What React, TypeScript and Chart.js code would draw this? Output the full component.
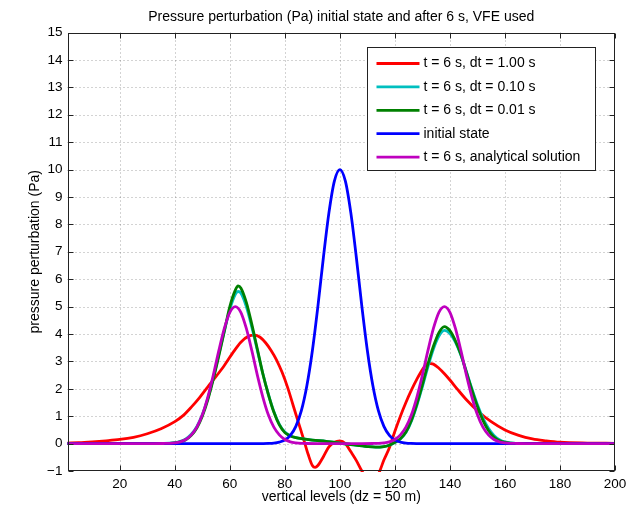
import React, { useEffect, useRef } from 'react';
import { Chart, registerables } from 'chart.js';

Chart.register(...registerables);

const FONT = "'Liberation Sans', Arial, Helvetica, sans-serif";

const chartTitle = 'Pressure perturbation (Pa) initial state and after 6 s, VFE used';
const xAxisTitle = 'vertical levels (dz = 50 m)';
const yAxisTitle = 'pressure perturbation (Pa)';

const xTickValues = [20, 40, 60, 80, 100, 120, 140, 160, 180, 200];
const yTickValues = [-1, 0, 1, 2, 3, 4, 5, 6, 7, 8, 9, 10, 11, 12, 13, 14, 15];

const seriesLabels = [
  't = 6 s, dt = 1.00 s',
  't = 6 s, dt = 0.10 s',
  't = 6 s, dt = 0.01 s',
  'initial state',
  't = 6 s, analytical solution',
];
const seriesColors = ['#ff0000', '#00bfbf', '#008000', '#0000ff', '#bf00bf'];

// dt = 1.00 s (red)
const redX = [1, 5, 10, 15, 20, 25, 30, 35, 40, 43, 46, 49, 52, 55, 58, 61, 64, 67, 69, 71, 73, 75, 77, 79, 81, 83, 85, 87, 88.5, 90, 91, 92, 94, 96, 98, 100, 102, 104, 106, 108, 110, 111.5, 113, 114.5, 116, 118, 120, 122, 124, 126, 128, 130, 132, 134, 136, 138, 140, 143, 146, 150, 155, 160, 165, 170, 175, 180, 190, 200];
const redY = [0.02, 0.03, 0.06, 0.1, 0.15, 0.23, 0.36, 0.54, 0.8, 1.02, 1.33, 1.68, 2.07, 2.45, 2.85, 3.3, 3.7, 3.93, 3.96, 3.88, 3.68, 3.4, 3.05, 2.6, 2.05, 1.4, 0.75, 0.1, -0.4, -0.8, -0.87, -0.8, -0.48, -0.12, 0.05, 0.1, 0.0, -0.3, -0.62, -1.0, -1.3, -1.4, -1.3, -1.0, -0.6, -0.15, 0.45, 1.0, 1.5, 1.95, 2.35, 2.7, 2.93, 2.9, 2.75, 2.55, 2.32, 1.95, 1.6, 1.2, 0.8, 0.5, 0.3, 0.17, 0.1, 0.05, 0.02, 0.01];

// dt = 0.10 s (cyan)
const cyanX = [1, 36, 40, 42, 44, 46, 48, 50, 52, 54, 56, 58, 60, 62, 63, 64, 66, 68, 70, 72, 74, 76, 78, 80, 82, 84, 86, 90, 95, 100, 105, 110, 113, 116, 118, 120, 122, 124, 126, 128, 130, 132, 134, 136, 138, 140, 142, 144, 146, 148, 150, 152, 154, 156, 158, 160, 164, 200];
const cyanY = [0, 0.005, 0.035, 0.08, 0.17, 0.34, 0.62, 1.05, 1.65, 2.4, 3.25, 4.1, 4.9, 5.45, 5.55, 5.5, 5.0, 4.25, 3.4, 2.55, 1.8, 1.17, 0.7, 0.42, 0.29, 0.22, 0.18, 0.13, 0.08, 0.02, -0.05, -0.11, -0.13, -0.11, -0.06, 0.04, 0.17, 0.4, 0.82, 1.4, 2.08, 2.8, 3.45, 3.92, 4.13, 4.02, 3.7, 3.22, 2.62, 2.0, 1.42, 0.93, 0.56, 0.3, 0.14, 0.06, 0.01, 0];

// dt = 0.01 s (green)
const greenX = [1, 36, 40, 42, 44, 46, 48, 50, 52, 54, 56, 58, 60, 62, 63, 64, 66, 68, 70, 72, 74, 76, 78, 80, 82, 84, 86, 90, 95, 100, 105, 110, 113, 116, 118, 120, 122, 124, 126, 128, 130, 132, 134, 136, 138, 140, 142, 144, 146, 148, 150, 152, 154, 156, 158, 160, 164, 200];
const greenY = [0, 0.004, 0.025, 0.06, 0.14, 0.3, 0.57, 1.0, 1.6, 2.35, 3.2, 4.1, 5.0, 5.6, 5.75, 5.68, 5.15, 4.35, 3.45, 2.55, 1.8, 1.15, 0.68, 0.4, 0.28, 0.22, 0.18, 0.13, 0.08, 0.02, -0.05, -0.11, -0.13, -0.11, -0.06, 0.05, 0.18, 0.42, 0.85, 1.45, 2.15, 2.9, 3.55, 4.05, 4.27, 4.12, 3.75, 3.25, 2.6, 1.95, 1.35, 0.85, 0.48, 0.24, 0.1, 0.04, 0.005, 0];

// initial state (blue)
const blueX = [1, 70, 74, 76, 78, 80, 82, 84, 86, 88, 90, 92, 94, 96, 98, 100, 102, 104, 106, 108, 110, 112, 114, 116, 118, 120, 122, 124, 126, 130, 200];
const blueY = [0, 0, 0.007, 0.02, 0.054, 0.13, 0.3, 0.63, 1.2, 2.11, 3.39, 5.0, 6.78, 8.41, 9.58, 10, 9.58, 8.41, 6.78, 5.0, 3.39, 2.11, 1.2, 0.63, 0.3, 0.13, 0.054, 0.02, 0.007, 0, 0];

// analytical solution (magenta)
const magentaX = [1, 32, 36, 38, 40, 42, 44, 46, 48, 50, 52, 54, 56, 58, 60, 62, 64, 66, 68, 70, 72, 74, 76, 78, 80, 82, 84, 86, 88, 92, 108, 112, 114, 116, 118, 120, 122, 124, 126, 128, 130, 132, 134, 136, 138, 140, 142, 144, 146, 148, 150, 152, 154, 156, 158, 160, 162, 164, 168, 200];
const magentaY = [0, 0, 0.004, 0.01, 0.027, 0.065, 0.15, 0.32, 0.6, 1.05, 1.7, 2.5, 3.39, 4.2, 4.79, 5.0, 4.79, 4.2, 3.39, 2.5, 1.7, 1.05, 0.6, 0.32, 0.15, 0.065, 0.027, 0.01, 0.004, 0, 0, 0.004, 0.01, 0.027, 0.065, 0.15, 0.32, 0.6, 1.05, 1.7, 2.5, 3.39, 4.2, 4.79, 5.0, 4.79, 4.2, 3.39, 2.5, 1.7, 1.05, 0.6, 0.32, 0.15, 0.065, 0.027, 0.01, 0.004, 0, 0];

const seriesX = [redX, cyanX, greenX, blueX, magentaX];
const seriesY = [redY, cyanY, greenY, blueY, magentaY];
const drawOrder = [5, 4, 3, 2, 1];

const framePlugin = {
  id: 'matlabFrame',
  beforeDatasetsDraw(chart: any) {
    const { ctx, chartArea: a, scales } = chart;
    ctx.save();
    ctx.strokeStyle = 'rgba(0,0,0,0.35)';
    ctx.lineWidth = 1;
    ctx.setLineDash([1, 3]);
    xTickValues.forEach((v) => {
      const px = Math.round(scales.x.getPixelForValue(v)) + 0.5;
      if (px > a.left + 1 && px < a.right - 1) {
        ctx.beginPath();
        ctx.moveTo(px, a.top);
        ctx.lineTo(px, a.bottom);
        ctx.stroke();
      }
    });
    yTickValues.forEach((v) => {
      const py = Math.round(scales.y.getPixelForValue(v)) + 0.5;
      if (py > a.top + 1 && py < a.bottom - 1) {
        ctx.beginPath();
        ctx.moveTo(a.left, py);
        ctx.lineTo(a.right, py);
        ctx.stroke();
      }
    });
    ctx.restore();
  },
  afterDatasetsDraw(chart: any) {
    const { ctx, chartArea: a, scales } = chart;
    ctx.save();
    ctx.strokeStyle = '#222';
    ctx.lineWidth = 1;
    ctx.setLineDash([]);
    const L = Math.round(a.left) + 0.5;
    const R = Math.round(a.right) - 0.5;
    const T = Math.round(a.top) + 0.5;
    const B = Math.round(a.bottom) - 0.5;
    ctx.strokeRect(L, T, R - L, B - T);
    const tl = 5;
    ctx.beginPath();
    xTickValues.forEach((v) => {
      const px = Math.round(scales.x.getPixelForValue(v)) + 0.5;
      ctx.moveTo(px, B);
      ctx.lineTo(px, B - tl);
      ctx.moveTo(px, T);
      ctx.lineTo(px, T + tl);
    });
    yTickValues.forEach((v) => {
      const py = Math.round(scales.y.getPixelForValue(v)) + 0.5;
      ctx.moveTo(L, py);
      ctx.lineTo(L + tl, py);
      ctx.moveTo(R, py);
      ctx.lineTo(R - tl, py);
    });
    ctx.stroke();
    // title centred over the axes, as MATLAB does
    ctx.fillStyle = '#000';
    ctx.font = `14px ${FONT}`;
    ctx.textAlign = 'center';
    ctx.textBaseline = 'middle';
    ctx.fillText(chartTitle, (a.left + a.right) / 2, a.top - 15.5);
    ctx.restore();
  },
};

const legendPlugin = {
  id: 'matlabLegend',
  afterDraw(chart: any) {
    const { ctx, chartArea: a } = chart;
    const datasets = chart.data.datasets;
    const boxR = Math.round(a.right) - 19.5;
    const boxL = boxR - 228;
    const boxT = Math.round(a.top) + 14.5;
    const rowH = 23.4;
    const boxH = 123;
    ctx.save();
    ctx.fillStyle = '#fff';
    ctx.fillRect(boxL, boxT, boxR - boxL, boxH);
    ctx.strokeStyle = '#222';
    ctx.lineWidth = 1;
    ctx.strokeRect(boxL, boxT, boxR - boxL, boxH);
    ctx.font = `14px ${FONT}`;
    ctx.textBaseline = 'middle';
    ctx.textAlign = 'left';
    datasets.forEach((ds: any, i: number) => {
      const y = boxT + 16 + i * rowH;
      ctx.strokeStyle = ds.borderColor;
      ctx.lineWidth = 2.8;
      ctx.beginPath();
      ctx.moveTo(boxL + 9, y);
      ctx.lineTo(boxL + 52, y);
      ctx.stroke();
      ctx.fillStyle = '#000';
      ctx.fillText(ds.label, boxL + 56, y);
    });
    ctx.restore();
  },
};

export default function App() {
  const ref = useRef<HTMLCanvasElement>(null);
  useEffect(() => {
    if (!ref.current) return;
    const datasets = seriesLabels.map((label, i) => ({
      label,
      data: seriesX[i].map((x, j) => ({ x, y: seriesY[i][j] })),
      borderColor: seriesColors[i],
      backgroundColor: seriesColors[i],
      borderWidth: 2.8,
      pointRadius: 0,
      fill: false,
      cubicInterpolationMode: 'monotone' as const,
      order: drawOrder[i],
      clip: 1,
    }));
    const tickFont = { family: FONT, size: 13.5 };
    const chart = new Chart(ref.current, {
      type: 'line',
      data: { datasets },
      options: {
        animation: false,
        responsive: false,
        devicePixelRatio: 1,
        layout: { padding: { left: 0, right: 27, top: 32.5, bottom: 0 } },
        plugins: {
          legend: { display: false },
          tooltip: { enabled: false },
          title: { display: false },
        },
        scales: {
          x: {
            type: 'linear',
            min: 1,
            max: 200,
            grid: { display: false, drawTicks: false },
            border: { display: false },
            afterBuildTicks: (s: any) => {
              s.ticks = xTickValues.map((v) => ({ value: v }));
            },
            ticks: {
              font: tickFont,
              color: '#000',
              padding: 5,
              maxRotation: 0,
              autoSkip: false,
            },
            title: {
              display: true,
              text: xAxisTitle,
              color: '#000',
              font: { family: FONT, size: 14 },
              padding: { top: 2, bottom: 4 },
            },
            afterFit: (s: any) => {
              s.height = 39;
            },
          },
          y: {
            type: 'linear',
            min: -1,
            max: 15,
            grid: { display: false, drawTicks: false },
            border: { display: false },
            afterBuildTicks: (s: any) => {
              s.ticks = yTickValues.map((v) => ({ value: v }));
            },
            ticks: {
              font: tickFont,
              color: '#000',
              padding: 5,
              autoSkip: false,
              callback: (v: any) => String(v).replace('-', '\u2212'),
            },
            title: {
              display: true,
              text: yAxisTitle,
              color: '#000',
              font: { family: FONT, size: 14 },
              padding: { top: 27, bottom: 0 },
            },
            afterFit: (s: any) => {
              s.width = 67.5;
            },
          },
        },
      },
      plugins: [framePlugin, legendPlugin],
    });
    return () => chart.destroy();
  }, []);
  return (
    <div style={{ position: 'absolute', left: 0, top: 0, width: 642, height: 510, background: '#fff' }}>
      <canvas ref={ref} width={642} height={510} style={{ display: 'block' }} />
    </div>
  );
}
